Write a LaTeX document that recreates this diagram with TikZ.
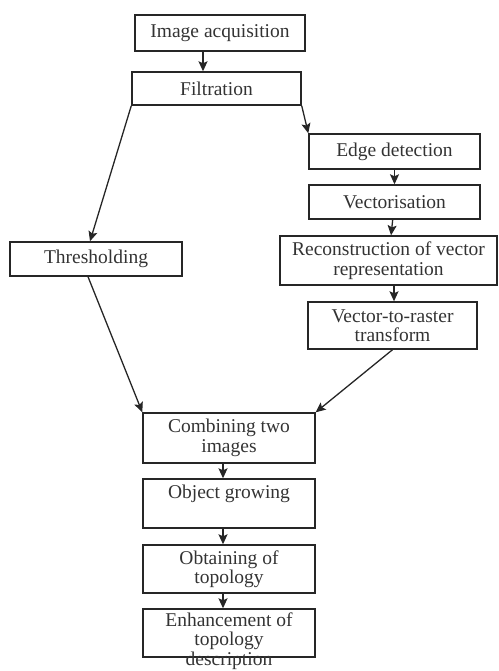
\documentclass[tikz,border=0pt]{standalone}
\usepackage{fontspec}
\setmainfont{Liberation Serif}
\usetikzlibrary{arrows.meta,calc}
\begin{document}
\begin{tikzpicture}[x=1pt,y=-1pt,
  box/.style={draw=black!85,line width=1.4pt,rectangle,inner sep=0pt,align=center,
    font=\fontsize{19.5}{19.5}\selectfont,text=black!80},
  txt/.style={inner sep=0pt,align=center,font=\fontsize{19.5}{19.5}\selectfont,text=black!80},
  arr/.style={draw=black!85,line width=1.3pt,-{Stealth[length=10pt,width=9pt,inset=2pt]}}]
\useasboundingbox (0,0) rectangle (498,671);
\node[box,minimum width=170pt,minimum height=36pt] (acq) at (220,33) {Image acquisition};
\node[box,minimum width=169pt,minimum height=33pt] (filt) at (216.5,88.5) {Filtration};
\node[box,minimum width=171pt,minimum height=35pt] (edge) at (394.5,151.5) {Edge detection};
\node[box,minimum width=171pt,minimum height=34pt] (vect) at (394.5,202) {Vectorisation};
\node[box,minimum width=217pt,minimum height=49pt] (recon) at (388.5,260.5) {Reconstruction of vector\\representation};
\node[box,minimum width=169pt,minimum height=47pt] (v2r) at (392.5,325.5) {Vector-to-raster\\transform};
\node[box,minimum width=172pt,minimum height=34pt] (thr) at (96,259) {Thresholding};
\node[box,minimum width=172pt,minimum height=50pt] (comb) at (229,438) {Combining two\\images};
\node[box,minimum width=172pt,minimum height=49pt] (obj) at (229,503.5) {};
\node[txt] (objt) at (229,494) {Object growing};
\node[box,minimum width=172pt,minimum height=48pt] (obt) at (229,569) {Obtaining of\\topology};
\node[box,minimum width=172pt,minimum height=48pt] (enh) at (229,633) {};
\node[txt] (enht) at (229,641) {Enhancement of\\topology\\description};
\draw[arr] (acq.south -| 203,0) -- (filt.north -| 203,0);
\draw[arr] (filt.south west) -- ($(thr.north)+(-6,0)$);
\draw[arr] (filt.south east) -- (edge.north west);
\draw[arr] (edge) -- (vect);
\draw[arr] (vect) -- (recon);
\draw[arr] (recon.south -| 394,0) -- (v2r.north -| 394,0);
\draw[arr] ($(thr.south)+(-8,0)$) -- (comb.north west);
\draw[arr] (v2r.south) -- (comb.north east);
\draw[arr] (comb.south -| 223,0) -- (obj.north -| 223,0);
\draw[arr] (obj.south -| 223,0) -- (obt.north -| 223,0);
\draw[arr] (obt.south -| 223,0) -- (enh.north -| 223,0);
\end{tikzpicture}
\end{document}
